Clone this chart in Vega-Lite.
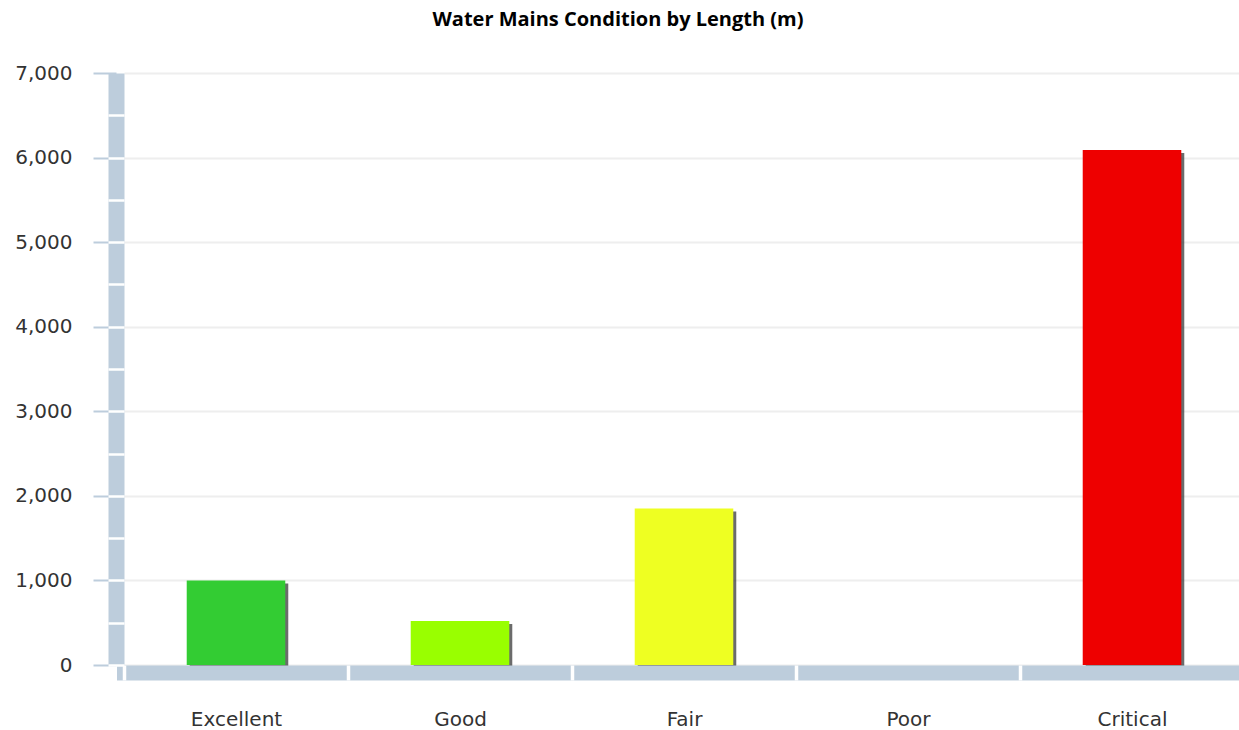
{
  "$schema": "https://vega.github.io/schema/vega-lite/v6.json",
  "width": 1120,
  "height": 592,
  "autosize": {"type": "none"},
  "padding": {"left": 124, "top": 73, "right": 0, "bottom": 65},
  "background": "white",
  "config": {"view": {"stroke": null}},
  "title": {
    "text": "Water Mains Condition by Length (m)",
    "font": "Open Sans",
    "fontSize": 20,
    "fontWeight": "bold",
    "color": "#000000",
    "anchor": "middle",
    "dx": -66,
    "offset": 33
  },
  "data": {
    "values": [
      {"condition": "Excellent", "length": 1000},
      {"condition": "Good", "length": 520},
      {"condition": "Fair", "length": 1850},
      {"condition": "Poor", "length": 0},
      {"condition": "Critical", "length": 6090}
    ]
  },
  "layer": [
    {
      "mark": {"type": "bar", "color": "#3a3a3a", "opacity": 0.75, "xOffset": 3, "x2Offset": 3, "yOffset": 3, "y2Offset": 3},
      "encoding": {
        "x": {
          "field": "condition", "type": "nominal", "sort": null,
          "scale": {"paddingInner": 0.56, "paddingOuter": 0.28},
          "axis": {
            "orient": "bottom", "offset": 7.5, "domain": true, "domainColor": "#bdcddc",
            "domainWidth": 15, "domainCap": "square", "ticks": false, "labels": false,
            "grid": false, "title": null, "zindex": 1
          }
        },
        "y": {
          "field": "length", "type": "quantitative",
          "scale": {"domain": [0, 7000], "nice": false},
          "axis": {
            "orient": "left", "offset": 8, "domain": true, "domainColor": "#bdcddc", "domainWidth": 16,
            "ticks": true, "tickColor": "#bdcddc", "tickWidth": 2, "tickSize": 23,
            "labelPadding": 21, "values": [0, 1000, 2000, 3000, 4000, 5000, 6000, 7000],
            "format": ",.0f", "grid": true, "gridColor": "#eeeeee", "gridWidth": 2, "title": null,
            "labelFont": "DejaVu Sans", "labelFontSize": 20, "labelColor": "#333333", "zindex": 0
          }
        }
      }
    },
    {
      "mark": {"type": "bar"},
      "encoding": {
        "x": {
          "field": "condition", "type": "nominal", "sort": null,
          "axis": {
            "orient": "bottom", "offset": 0, "domain": false, "ticks": true, "tickColor": "white",
            "tickWidth": 3.5, "tickSize": 15, "tickOffset": -112, "labelOffset": 112, "labelPadding": 29,
            "labelFont": "DejaVu Sans", "labelFontSize": 20, "labelColor": "#333333",
            "labelAngle": 0, "grid": false, "title": null, "zindex": 2
          }
        },
        "y": {
          "field": "length", "type": "quantitative",
          "axis": {
            "orient": "left", "offset": 0, "domain": false, "labels": false, "grid": false,
            "ticks": true, "tickColor": "white", "tickWidth": 2.5, "tickSize": 16,
            "values": [0, 500, 1000, 1500, 2000, 2500, 3000, 3500, 4000, 4500, 5000, 5500, 6000, 6500],
            "title": null, "zindex": 1
          }
        },
        "color": {
          "field": "condition", "type": "nominal", "legend": null,
          "scale": {
            "domain": ["Excellent", "Good", "Fair", "Poor", "Critical"],
            "range": ["#33cc33", "#99ff00", "#eeff22", "#ff9900", "#ee0000"]
          }
        }
      }
    }
  ],
  "resolve": {"axis": {"x": "independent", "y": "independent"}}
}
